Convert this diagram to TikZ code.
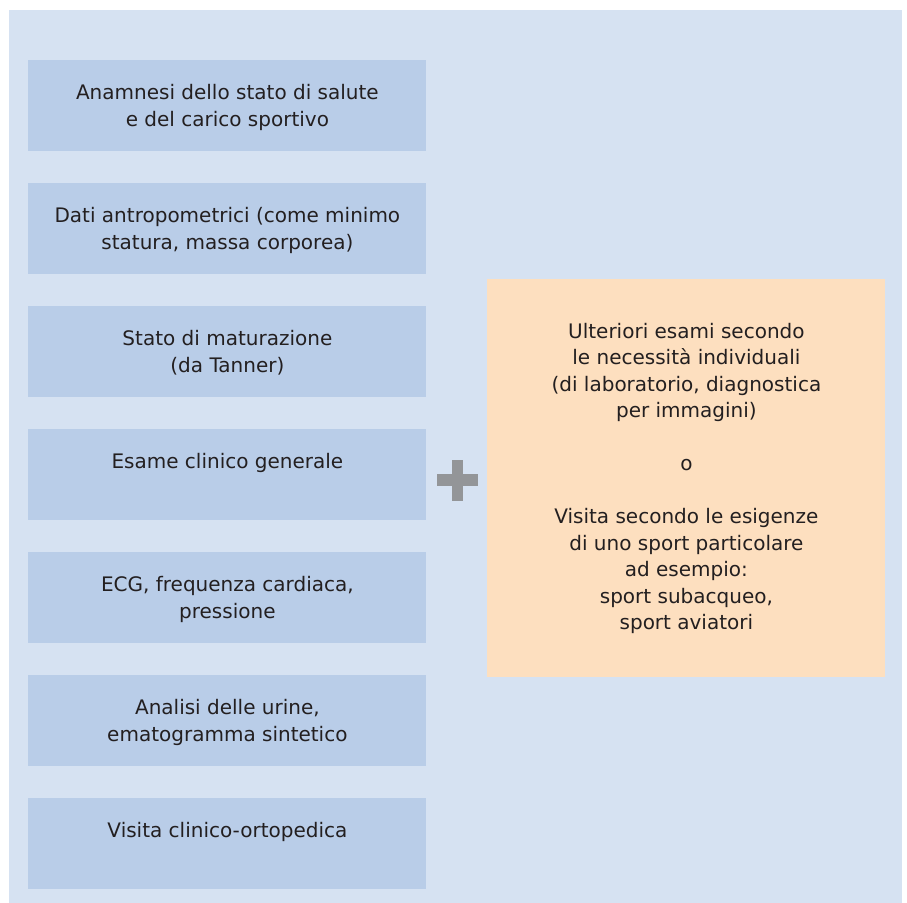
\documentclass[tikz,border=0pt]{standalone}
\usepackage{fontspec}
\setmainfont{DejaVu Sans}
\usetikzlibrary{positioning}
\definecolor{pagebg}{HTML}{D6E2F2}
\definecolor{stepblue}{HTML}{B9CDE8}
\definecolor{extraorange}{HTML}{FDDFBF}
\definecolor{plusgray}{HTML}{939598}
\definecolor{inkblack}{HTML}{231F20}

\begin{document}
\begin{tikzpicture}[x=0.5pt, y=-0.5pt, font=\fontsize{10}{13.25}\selectfont, text=inkblack,
  exambox/.style={fill=stepblue, inner sep=0, minimum width=199pt, minimum height=45.5pt, anchor=north west},
  examtext/.style={align=center, inner sep=0},
  extrabox/.style={fill=extraorange, inner sep=0, minimum width=199pt, minimum height=199pt, anchor=north west}]
  \useasboundingbox (0,0) rectangle (907,903);
  \fill[pagebg] (9,10) rectangle (902,903);
  % left column of basic checks
  \foreach \i/\txt in {1/{Anamnesi dello stato di salute\\e del carico sportivo},
                       2/{Dati antropometrici (come minimo\\statura, massa corporea)},
                       3/{Stato di maturazione\\(da Tanner)},
                       4/{Esame clinico generale},
                       5/{ECG, frequenza cardiaca,\\pressione},
                       6/{Analisi delle urine,\\ematogramma sintetico},
                       7/{Visita clinico-ortopedica}}
  {
    \node[exambox] (b\i) at (28,{60+123*(\i-1)}) {};
    \node[examtext, below=12pt of b\i.north] (t\i) {\txt};
  }
  % plus sign
  \fill[plusgray] (437,474) rectangle (478,486);
  \fill[plusgray] (452,460) rectangle (463,501);
  % additional examinations
  \node[extrabox] (extra) at (487,279) {};
  \node[examtext] (extratext) at (extra.center) {Ulteriori esami secondo\\le necessit\`a individuali\\(di laboratorio, diagnostica\\per immagini)\\[13.25pt]
    o\\[13.25pt]
    Visita secondo le esigenze\\di uno sport particolare\\ad esempio:\\sport subacqueo,\\sport aviatori};
\end{tikzpicture}
\end{document}
